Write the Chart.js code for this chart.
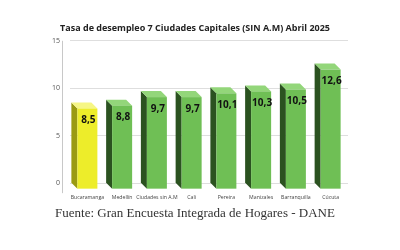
<!DOCTYPE html>
<html lang="es">
<head>
<meta charset="utf-8">
<title>Tasa de desempleo</title>
<script src="https://cdn.jsdelivr.net/npm/chart.js@4"></script>
<style>
  html, body { margin: 0; padding: 0; background: #fff; }
  #wrap { width: 400px; height: 250px; }
</style>
</head>
<body>
<div id="wrap"><canvas id="chart"></canvas></div>
<script>
// data
const ciudades = ['Bucaramanga', 'Medellín', 'Ciudades sin A.M', 'Cali', 'Pereira', 'Manizales', 'Barranquilla', 'Cúcuta'];
const tasas = [8.5, 8.8, 9.7, 9.7, 10.1, 10.3, 10.5, 12.6];
const destacada = 'Bucaramanga';
const yTicks = [0, 5, 10, 15];

const titulo = 'Tasa de desempleo 7 Ciudades Capitales (SIN A.M) Abril 2025';
const fuente = 'Fuente: Gran Encuesta Integrada de Hogares - DANE';

// colours for the three faces of each box
const verde = { front: '#6fbf55', side: '#2b5220', top: '#93d67a' };
const amarillo = { front: '#eded2a', side: '#9a9a12', top: '#f6f685' };

// depth of the fake 3D boxes
const DX = 6, DY = 6;

// draws each bar as a box: front face at the bar, back face up-left
const cajas3d = {
  id: 'cajas3d',
  afterDatasetsDraw(chart) {
    const ctx = chart.ctx;
    const meta = chart.getDatasetMeta(0);
    ctx.save();
    meta.data.forEach((bar, i) => {
      const c = ciudades[i] === destacada ? amarillo : verde;
      const w = bar.width;
      const xl = bar.x - w / 2, xr = bar.x + w / 2;
      const yt = bar.y, yb = bar.base;

      // left side
      ctx.fillStyle = c.side;
      ctx.beginPath();
      ctx.moveTo(xl - DX, yt);
      ctx.lineTo(xl, yt + DY);
      ctx.lineTo(xl, yb + DY);
      ctx.lineTo(xl - DX, yb);
      ctx.closePath();
      ctx.fill();

      // top
      ctx.fillStyle = c.top;
      ctx.beginPath();
      ctx.moveTo(xl - DX, yt);
      ctx.lineTo(xr - DX, yt);
      ctx.lineTo(xr, yt + DY);
      ctx.lineTo(xl, yt + DY);
      ctx.closePath();
      ctx.fill();

      // front
      ctx.fillStyle = c.front;
      ctx.fillRect(xl, yt + DY, w, yb - yt);

      // value label
      ctx.fillStyle = '#111';
      ctx.font = 'bold 10px "Open Sans", sans-serif';
      ctx.textAlign = 'center';
      ctx.textBaseline = 'middle';
      ctx.fillText(tasas[i].toFixed(1).replace('.', ','), bar.x + 1, yt + DY + 12);
    });

    // y axis line, set apart from the grid
    const a = chart.chartArea;
    ctx.strokeStyle = '#c8c8c8';
    ctx.lineWidth = 1;
    ctx.beginPath();
    ctx.moveTo(a.left - 7.5, a.top);
    ctx.lineTo(a.left - 7.5, a.bottom + 10);
    ctx.stroke();
    ctx.restore();
  }
};

new Chart(document.getElementById('chart'), {
  type: 'bar',
  data: {
    labels: ciudades,
    datasets: [{
      label: 'Tasa de desempleo',
      data: tasas,
      backgroundColor: 'rgba(0,0,0,0)',
      barThickness: 20
    }]
  },
  options: {
    responsive: true,
    maintainAspectRatio: false,
    animation: false,
    layout: { padding: { left: 42, right: 52, top: 23, bottom: 29 } },
    plugins: {
      legend: { display: false },
      tooltip: { enabled: false },
      title: {
        display: true,
        text: titulo,
        color: '#222',
        font: { family: 'Open Sans', size: 9, weight: 'bold' },
        padding: { top: 0, bottom: 7 }
      },
      subtitle: {
        display: true,
        position: 'bottom',
        text: fuente,
        color: '#333',
        font: { family: 'Liberation Serif', size: 13 },
        padding: { top: 2, bottom: 0 }
      }
    },
    scales: {
      x: {
        grid: { display: false },
        border: { display: false },
        ticks: {
          color: '#444',
          font: { family: 'Open Sans', size: 5.2 },
          maxRotation: 0,
          autoSkip: false,
          padding: 3
        }
      },
      y: {
        min: 0,
        max: 15,
        afterBuildTicks: (axis) => { axis.ticks = yTicks.map((v) => ({ value: v })); },
        grid: { color: '#dedede', drawTicks: false },
        border: { display: false },
        ticks: {
          color: '#555',
          font: { family: 'Open Sans', size: 7 },
          padding: 10
        }
      }
    }
  },
  plugins: [cajas3d]
});
</script>
</body>
</html>
